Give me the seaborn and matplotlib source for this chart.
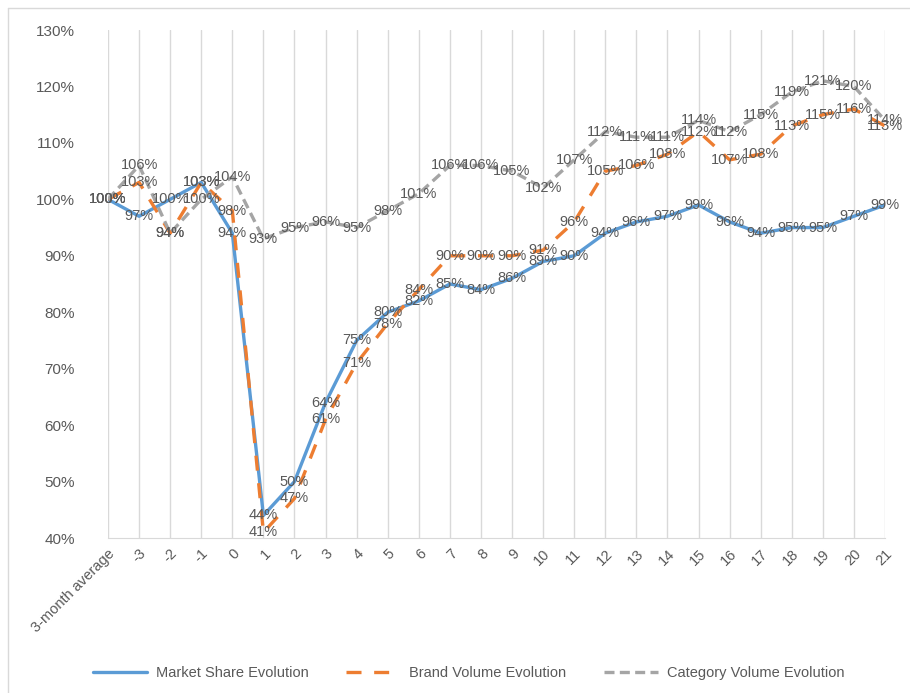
import numpy as np
import pandas as pd
import seaborn as sns
import matplotlib.pyplot as plt
from matplotlib.lines import Line2D
from matplotlib.ticker import FuncFormatter

# Datos (en %)
months = ['3-month average', '-3', '-2', '-1', '0', '1', '2', '3', '4', '5', '6', '7', '8',
          '9', '10', '11', '12', '13', '14', '15', '16', '17', '18', '19', '20', '21']
market_share = [100, 97, 100, 103, 94, 44, 50, 64, 75, 80, 82, 85, 84, 86, 89, 90,
                94, 96, 97, 99, 96, 94, 95, 95, 97, 99]
brand_volume = [100, 103, 94, 103, 98, 41, 47, 61, 71, 78, 84, 90, 90, 90, 91, 96,
                105, 106, 108, 112, 107, 108, 113, 115, 116, 113]
category_volume = [100, 106, 94, 100, 104, 93, 95, 96, 95, 98, 101, 106, 106, 105, 102, 107,
                   112, 111, 111, 114, 112, 115, 119, 121, 120, 114]

series_names = ['Market Share Evolution', 'Brand Volume Evolution', 'Category Volume Evolution']
series_values = [market_share, brand_volume, category_volume]
colors = ['#5B9BD5', '#ED7D31', '#A5A5A5']

sns.set_style('white')
plt.rcParams['font.family'] = ['Liberation Sans', 'DejaVu Sans']
txt_color = '#595959'

df = pd.concat([
    pd.DataFrame({'pos': np.arange(len(months)), 'value': vals, 'serie': name})
    for name, vals in zip(series_names, series_values)
], ignore_index=True)

fig = plt.figure(figsize=(9.1, 6.93), dpi=100)
ax = fig.add_axes([108/910, 1 - 538/693, (885-108)/910, (538-30)/693])

palette = dict(zip(series_names, colors))
dashes = {
    series_names[0]: '',
    series_names[1]: (4.5, 3.8),
    series_names[2]: (3.0, 1.6),
}
sns.lineplot(data=df, x='pos', y='value', hue='serie', style='serie',
             palette=palette, dashes=dashes, linewidth=2.4, ax=ax, legend=False)

# Etiquetas de datos centradas en cada punto
for vals in series_values:
    for x, y in enumerate(vals):
        ax.text(x, y, f'{y}%', ha='center', va='center', fontsize=10.5,
                color=txt_color, zorder=5)

ax.set_xlim(0, len(months) - 1)
ax.set_ylim(40, 130)
ax.set_yticks(range(40, 131, 10))
ax.yaxis.set_major_formatter(FuncFormatter(lambda v, p: f'{int(v)}%'))
ax.set_xticks(range(len(months)))
ax.set_xticklabels(months, rotation=45, ha='right', rotation_mode='anchor')
ax.tick_params(axis='x', colors=txt_color, labelsize=10.5, length=0, pad=6)
ax.tick_params(axis='y', colors=txt_color, labelsize=11, length=0, pad=24)
ax.set_xlabel('')
ax.set_ylabel('')

ax.grid(axis='x', color='#D9D9D9', linewidth=1)
ax.grid(axis='y', visible=False)
for side in ['top', 'right', 'left']:
    ax.spines[side].set_visible(False)
ax.spines['bottom'].set_color('#D9D9D9')

# Leyenda inferior
handles = [Line2D([0], [0], color=colors[0], linewidth=2.4),
           Line2D([0], [0], color=colors[1], linewidth=2.4, dashes=dashes[series_names[1]]),
           Line2D([0], [0], color=colors[2], linewidth=2.4, dashes=dashes[series_names[2]])]
leg = fig.legend(handles, series_names, loc='center', bbox_to_anchor=(0.515, 1 - 673/693),
                 ncol=3, frameon=False, fontsize=10.5, handlelength=3.7, columnspacing=2.6,
                 handletextpad=0.6)
for t in leg.get_texts():
    t.set_color(txt_color)

# Borde del area del grafico
fig.add_artist(Line2D([8/910, 8/910], [0, 1 - 8/693], color='#D9D9D9', linewidth=1))
fig.add_artist(Line2D([8/910, 1], [1 - 8/693, 1 - 8/693], color='#D9D9D9', linewidth=1))

fig.savefig('out.png', dpi=100)
